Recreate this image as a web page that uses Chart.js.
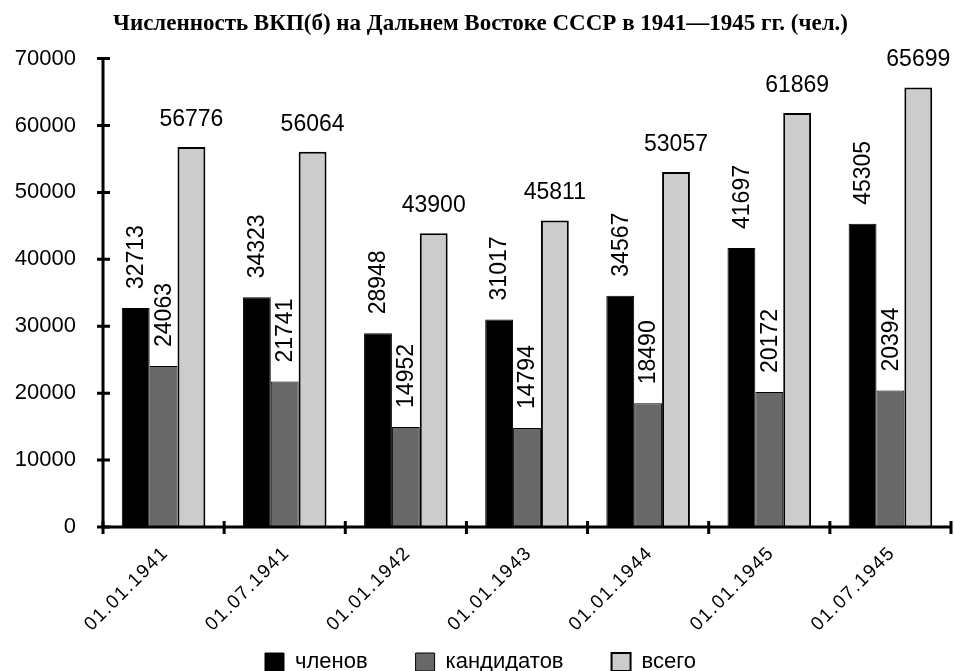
<!DOCTYPE html>
<html>
<head>
<meta charset="utf-8">
<script src="https://cdn.jsdelivr.net/npm/chart.js@4/dist/chart.umd.min.js"></script>
<style>
  html, body { margin: 0; padding: 0; background: #fff; }
  #wrap { width: 954px; height: 671px; }
</style>
</head>
<body>
<div id="wrap"><canvas id="my-chart"></canvas></div>
<script>
'use strict';

// *********** DATA ****************

let dates = ['01.01.1941', '01.07.1941', '01.01.1942', '01.01.1943', '01.01.1944', '01.01.1945', '01.07.1945'];
let members = [32713, 34323, 28948, 31017, 34567, 41697, 45305];
let candidates = [24063, 21741, 14952, 14794, 18490, 20172, 20394];
let totals = [56776, 56064, 43900, 45811, 53057, 61869, 65699];
let seriesNames = ['членов', 'кандидатов', 'всего'];
let yTicks = [0, 10000, 20000, 30000, 40000, 50000, 60000, 70000];

let sansFont = '"Liberation Sans", Arial, sans-serif';

// ********** PLUGINS ***************

// axes with ticks crossing the line on both sides
let crossAxes = {
  id: 'crossAxes',
  afterDraw(chart) {
    let ctx = chart.ctx;
    let area = chart.chartArea;
    let x = chart.scales.x;
    let y = chart.scales.y;
    ctx.save();
    ctx.strokeStyle = '#000';
    ctx.lineWidth = 3;
    ctx.beginPath();
    ctx.moveTo(area.left, area.top);
    ctx.lineTo(area.left, area.bottom);
    ctx.lineTo(area.right, area.bottom);
    ctx.stroke();
    ctx.beginPath();
    for (let i = 0; i < yTicks.length; i++) {
      let py = y.getPixelForValue(yTicks[i]);
      ctx.moveTo(area.left - 6, py);
      ctx.lineTo(area.left + 7, py);
    }
    for (let i = 0; i <= dates.length; i++) {
      let px = x.getPixelForValue(i - 0.5);
      ctx.moveTo(px, area.bottom - 6);
      ctx.lineTo(px, area.bottom + 7);
    }
    ctx.stroke();
    ctx.restore();
  }
};

// category labels at 45 degrees, dots spaced a bit like the original
let dateLabels = {
  id: 'dateLabels',
  afterDraw(chart) {
    let ctx = chart.ctx;
    let area = chart.chartArea;
    let x = chart.scales.x;
    ctx.save();
    ctx.fillStyle = '#000';
    ctx.font = '19px ' + sansFont;
    ctx.letterSpacing = '1.5px';
    ctx.textAlign = 'right';
    ctx.textBaseline = 'middle';
    for (let i = 0; i < dates.length; i++) {
      let px = x.getPixelForValue(i);
      ctx.save();
      ctx.translate(px + 2, area.bottom + 23);
      ctx.rotate(-Math.PI / 4);
      ctx.fillText(dates[i], 0, 0);
      ctx.restore();
    }
    ctx.restore();
  }
};

// value labels: rotated for members and candidates, flat for totals
let valueLabels = {
  id: 'valueLabels',
  afterDatasetsDraw(chart) {
    let ctx = chart.ctx;
    ctx.save();
    ctx.fillStyle = '#000';
    ctx.font = '23px ' + sansFont;
    chart.data.datasets.forEach(function (ds, di) {
      let meta = chart.getDatasetMeta(di);
      meta.data.forEach(function (bar, i) {
        let txt = String(ds.data[i]);
        if (di < 2) {
          ctx.save();
          ctx.translate(bar.x + 1, bar.y - 19);
          ctx.rotate(-Math.PI / 2);
          ctx.textAlign = 'left';
          ctx.textBaseline = 'middle';
          ctx.fillText(txt, 0, 0);
          ctx.restore();
        } else {
          ctx.textAlign = 'center';
          ctx.textBaseline = 'alphabetic';
          ctx.fillText(txt, bar.x, bar.y - 21);
        }
      });
    });
    ctx.restore();
  }
};

// ********** CHART ***************

let ctx = document.getElementById('my-chart').getContext('2d');

let myChartObj = {
  type: 'bar',
  data: {
    labels: dates,
    datasets: [{
      label: seriesNames[0],
      data: members,
      backgroundColor: '#000000',
      borderColor: '#000000',
      borderWidth: 1
    },
    {
      label: seriesNames[1],
      data: candidates,
      backgroundColor: '#686868',
      borderColor: '#000000',
      borderWidth: 1
    },
    {
      label: seriesNames[2],
      data: totals,
      backgroundColor: '#cccccc',
      borderColor: '#000000',
      borderWidth: 2
    }]
  },
  options: {
    responsive: true,
    maintainAspectRatio: false,
    animation: false,
    layout: {
      padding: { left: 10, right: 3, top: 0, bottom: -12 }
    },
    datasets: {
      bar: {
        categoryPercentage: 0.69,
        barPercentage: 1.0
      }
    },
    scales: {
      x: {
        grid: { display: false },
        border: { display: false },
        ticks: { display: false },
        afterFit: function (axis) {
          axis.height = 76;
        }
      },
      y: {
        min: 0,
        max: 70000,
        afterBuildTicks: function (axis) {
          axis.ticks = yTicks.map(function (v) { return { value: v }; });
        },
        afterFit: function (axis) {
          axis.width = 93;
        },
        grid: { display: false },
        border: { display: false },
        ticks: {
          color: '#000',
          font: { family: sansFont, size: 22 },
          padding: 19,
          callback: function (v) { return String(v); }
        }
      }
    },
    plugins: {
      title: {
        display: true,
        text: 'Численность ВКП(б) на Дальнем Востоке СССР в 1941—1945 гг. (чел.)',
        color: '#000',
        font: { family: '"Liberation Serif", "Times New Roman", serif', size: 23, weight: 'bold' },
        padding: { top: 10, bottom: 21 }
      },
      legend: {
        position: 'bottom',
        labels: {
          color: '#000',
          font: { family: sansFont, size: 22 },
          boxWidth: 19,
          boxHeight: 18,
          padding: 48
        }
      },
      tooltip: { enabled: false }
    }
  },
  plugins: [crossAxes, dateLabels, valueLabels]
};

new Chart(ctx, myChartObj);
</script>
</body>
</html>
